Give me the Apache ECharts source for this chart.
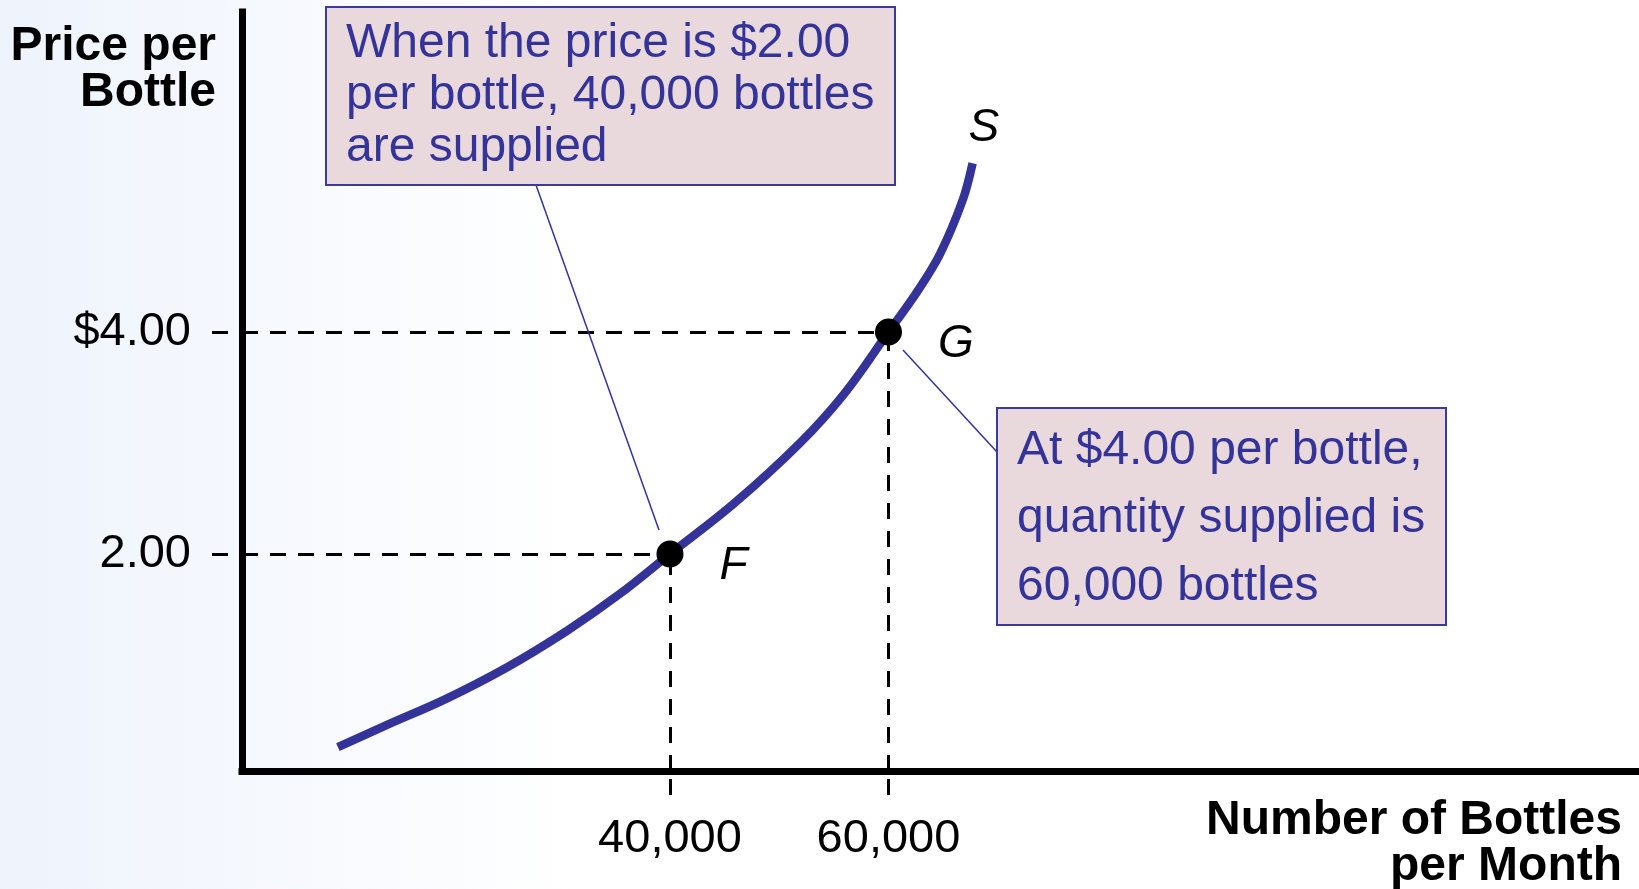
<!DOCTYPE html>
<html>
<head>
<meta charset="utf-8">
<title>Supply curve</title>
<script src="https://cdn.jsdelivr.net/npm/echarts@6/dist/echarts.min.js"></script>
<style>
  html, body { margin: 0; padding: 0; }
  #chart { width: 1639px; height: 889px; }
</style>
</head>
<body>
<div id="chart"></div>
<script>
// supply curve S (bottles per month, price per bottle)
const supplyQty = [9600, 14100, 19600, 25100, 30600, 35400, 40000, 45800, 51900, 56000, 60000, 62600, 64700, 66800, 67700]
const supplyPrice = [0.26, 0.46, 0.70, 0.98, 1.31, 1.64, 2.0, 2.45, 3.0, 3.45, 4.0, 4.36, 4.70, 5.19, 5.52]

// marked points
const pointNames = ['F', 'G']
const pointQty = [40000, 60000]
const pointPrice = [2.0, 4.0]

// tick labels
const xTicks = [40000, 60000]
const xTickLabels = ['40,000', '60,000']
const yTicks = [2, 4]
const yTickLabels = ['2.00', '$4.00']

const xMin = 824
const xMax = 128700
const yMin = 0.045
const yMax = 6.883

const FONT = '"Liberation Sans", Arial, sans-serif'
const NAVY = '#333399'

const chart = echarts.init(document.getElementById('chart'))

const guideLines = pointQty.map((q, i) => [
  [{ coord: [xMin, pointPrice[i]] }, { coord: [q, pointPrice[i]] }],
  [{ coord: [q, yMin] }, { coord: [q, pointPrice[i]] }],
]).flat()

chart.setOption({
  backgroundColor: new echarts.graphic.LinearGradient(0, 0, 1, 0, [
    { offset: 0, color: '#eef3fc' },
    { offset: 0.35, color: '#ffffff' },
    { offset: 1, color: '#ffffff' },
  ]),
  animation: false,
  grid: { left: 242, right: 0, top: 12, bottom: 118 },
  xAxis: {
    type: 'value',
    min: xMin,
    max: xMax,
    splitLine: { show: false },
    axisLine: { lineStyle: { color: '#000', width: 7, cap: 'square' } },
    axisTick: {
      customValues: xTicks,
      length: 24,
      lineStyle: { color: '#000', width: 3, type: [16, 14], dashOffset: 22 },
    },
    axisLabel: {
      customValues: xTicks,
      margin: 45,
      color: '#000',
      fontSize: 47,
      fontFamily: FONT,
      formatter: (v) => xTickLabels[xTicks.indexOf(v)],
    },
  },
  yAxis: {
    type: 'value',
    min: yMin,
    max: yMax,
    splitLine: { show: false },
    axisLine: { lineStyle: { color: '#000', width: 7, cap: 'square' } },
    axisTick: {
      customValues: yTicks,
      length: 30,
      lineStyle: { color: '#000', width: 3, type: [16, 14], dashOffset: 16 },
    },
    axisLabel: {
      customValues: yTicks,
      margin: 51,
      color: '#000',
      fontSize: 47,
      fontFamily: FONT,
      formatter: (v) => yTickLabels[yTicks.indexOf(v)],
    },
  },
  series: [
    {
      type: 'line',
      data: supplyQty.map((q, i) => [q, supplyPrice[i]]),
      smooth: 0.35,
      showSymbol: false,
      lineStyle: { color: NAVY, width: 8.5 },
      endLabel: {
        show: true,
        formatter: 'S',
        distance: 0,
        offset: [-4, -35],
        color: '#000',
        fontSize: 46,
        fontStyle: 'italic',
        fontFamily: FONT,
      },
      markLine: {
        silent: true,
        symbol: 'none',
        label: { show: false },
        lineStyle: { color: '#000', width: 3, type: [16, 12] },
        data: guideLines,
      },
      z: 2,
    },
    {
      type: 'scatter',
      data: pointQty.map((q, i) => ({ value: [q, pointPrice[i]], name: pointNames[i] })),
      symbolSize: 27,
      itemStyle: { color: '#000', opacity: 1 },
      label: {
        show: true,
        position: 'right',
        distance: 36,
        offset: [0, 12],
        formatter: '{b}',
        color: '#000',
        fontSize: 46,
        fontStyle: 'italic',
        fontFamily: FONT,
      },
      z: 5,
    },
  ],
  graphic: [
    {
      type: 'text',
      x: 216,
      y: 24,
      style: {
        text: 'Price per\nBottle',
        fill: '#000',
        font: 'bold 48px ' + FONT,
        lineHeight: 46,
        align: 'right',
      },
    },
    {
      type: 'text',
      x: 1622,
      y: 798,
      style: {
        text: 'Number of Bottles\nper Month',
        fill: '#000',
        font: 'bold 48px ' + FONT,
        lineHeight: 46,
        align: 'right',
      },
    },
    {
      type: 'line',
      shape: { x1: 536, y1: 185, x2: 659, y2: 530 },
      style: { stroke: NAVY, lineWidth: 1.5 },
      z: 10,
    },
    {
      type: 'line',
      shape: { x1: 903, y1: 350, x2: 997, y2: 452 },
      style: { stroke: NAVY, lineWidth: 1.5 },
      z: 10,
    },
    {
      type: 'rect',
      shape: { x: 326, y: 7, width: 569, height: 178 },
      style: { fill: '#e9d8dc', stroke: '#3b3b9e', lineWidth: 2 },
      z: 10,
    },
    {
      type: 'text',
      x: 346,
      y: 18,
      style: {
        text: 'When the price is $2.00\nper bottle, 40,000 bottles\nare supplied',
        fill: NAVY,
        font: '48px ' + FONT,
        lineHeight: 52,
      },
      z: 11,
    },
    {
      type: 'rect',
      shape: { x: 997, y: 408, width: 449, height: 217 },
      style: { fill: '#e9d8dc', stroke: '#3b3b9e', lineWidth: 2 },
      z: 10,
    },
    {
      type: 'text',
      x: 1017,
      y: 417,
      style: {
        text: 'At $4.00 per bottle,\nquantity supplied is\n60,000 bottles',
        fill: NAVY,
        font: '48px ' + FONT,
        lineHeight: 68,
      },
      z: 11,
    },
  ],
})
</script>
</body>
</html>
